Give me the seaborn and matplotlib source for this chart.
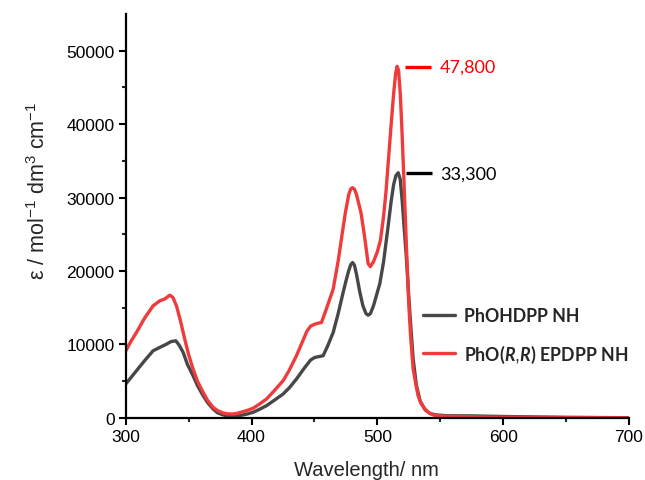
import matplotlib
matplotlib.use("Agg")
import matplotlib.pyplot as plt
import numpy as np
import pandas as pd
import seaborn as sns

# ---------------- data ----------------
wl_gray = [300, 308.5, 315, 321.7, 327, 332.4, 336, 339.8, 342.5, 345.6, 349, 353.5, 357, 361.5,
           365, 369.4, 373, 377.4, 381, 385.3, 389, 393.3, 397, 401.2, 406, 411.9, 418, 425.1,
           430, 435.7, 442, 447, 450.3, 453.5, 456.9, 460.5, 464.9, 469, 472.8, 475, 477, 478.8,
           480.3, 481.8, 483.5, 486, 488.5, 491, 492.7, 494.5, 497, 499.5, 502, 505, 508.6, 511,
           513, 514.8, 516.6, 518.2, 519.8, 521.5, 523.2, 525, 526.8, 528.5, 531, 534, 538, 542,
           546, 555, 575, 600, 650, 700]
eps_gray = [4620, 6430, 7800, 9140, 9600, 10050, 10400, 10500, 9900, 8930, 7300, 5750, 4400, 3030,
            2100, 1220, 700, 410, 280, 230, 290, 410, 560, 770, 1150, 1670, 2400, 3260,
            4100, 5300, 6800, 7900, 8240, 8350, 8470, 9800, 11640, 14300, 17080, 18600, 19900, 20850,
            21150, 20800, 19500, 17200, 15300, 14200, 13990, 14200, 15300, 16800, 18300, 21300, 26130, 29500,
            31800, 33000, 33380, 32500, 29500, 25500, 21600, 16500, 12000, 8020, 4500, 2300, 1100, 600,
            420, 300, 280, 200, 80, 30]

wl_red = [300, 304, 308.5, 315, 321.7, 327, 331, 335, 337.5, 340.3, 343.5, 346.9, 350, 353.5,
          357, 361.5, 365, 369.4, 373, 377.4, 381, 385.3, 389, 393.3, 397, 401.2, 406, 411.9,
          418, 425.1, 430, 435.7, 440, 444, 447, 450.3, 453, 455.6, 459, 464.9, 469, 471.8,
          474.6, 477.3, 478.8, 480.2, 481.8, 483.4, 487, 489.8, 492.7, 494.5, 497, 500, 502.5, 505,
          507, 509, 511, 513, 514.5, 515.7, 516.9, 518.3, 519.5, 521, 523, 525, 526.5, 528.5,
          530.5, 532.4, 535, 537.8, 541, 544.4, 550, 555, 580, 600, 650, 700]
eps_red = [9140, 10400, 11640, 13600, 15260, 15940, 16200, 16710, 16400, 15260, 13200, 10730, 8600, 6660,
           5000, 3490, 2400, 1450, 1000, 680, 560, 540, 650, 860, 1050, 1320, 1850, 2580,
           3700, 5070, 6500, 8470, 10200, 11800, 12500, 12770, 12900, 13000, 14600, 17530, 21500, 24770,
           27950, 30430, 31150, 31340, 31150, 30430, 27950, 24770, 21000, 20600, 21300, 22600, 24200, 27500,
           31000, 35500, 40000, 44200, 46800, 47870, 47300, 44000, 39500, 33000, 24000, 15500, 11000, 6660,
           4700, 3030, 1900, 1220, 700, 410, 280, 230, 130, 100, 60, 20]

series_labels = ["PhOHDPP NH", r"PhO($\mathit{R{,}R}$) EPDPP NH"]
peak_values = [33300, 47800]
peak_labels = ["33,300", "47,800"]
xticks = [300, 400, 500, 600, 700]
yticks = [0, 10000, 20000, 30000, 40000, 50000]

# ---------------- style ----------------
sns.set_style("ticks")
plt.rcParams["font.family"] = ["Liberation Sans", "DejaVu Sans"]
plt.rcParams["mathtext.fontset"] = "custom"
plt.rcParams["mathtext.rm"] = "Liberation Sans"
plt.rcParams["mathtext.it"] = "Lato:italic:bold"
plt.rcParams["mathtext.bf"] = "Liberation Sans:bold"

gray_c = "#474747"
red_c = "#EF3B3B"

df = pd.concat([
    pd.DataFrame({"wl": wl_gray, "eps": eps_gray, "series": series_labels[0]}),
    pd.DataFrame({"wl": wl_red, "eps": eps_red, "series": series_labels[1]}),
], ignore_index=True)

fig = plt.figure(figsize=(6.45, 4.81), dpi=100)
ax = fig.add_axes([0.195, 0.129, 0.780, 0.840])

sns.lineplot(data=df, x="wl", y="eps", hue="series", palette=[gray_c, red_c],
             linewidth=2.4, sort=False, estimator=None, ax=ax)
for ln in ax.get_lines():
    ln.set_solid_joinstyle("round")

ax.set_xlim(300, 700)
ax.set_ylim(0, 55000)
ax.set_xticks(xticks)
ax.set_yticks(yticks)
ax.set_xticks([350, 450, 550, 650], minor=True)
ax.set_yticks([5000, 15000, 25000, 35000, 45000], minor=True)
ax.tick_params(axis="both", which="major", direction="out", length=5, width=1.5,
               labelsize=12.5, colors="black", pad=3)
ax.tick_params(axis="both", which="minor", direction="out", length=3, width=1.5)
for side in ["top", "right"]:
    ax.spines[side].set_visible(False)
for side in ["left", "bottom"]:
    ax.spines[side].set_linewidth(1.6)
    ax.spines[side].set_color("black")

ax.set_xlabel("Wavelength/ nm", fontsize=14.5)
ax.xaxis.set_label_coords(0.479, -0.105)
ax.set_ylabel(r"ε / mol$^{-1}$ dm$^{3}$ cm$^{-1}$", fontsize=15.5)
ax.yaxis.set_label_coords(-0.15, 0.564)

# peak annotations
ann_colors = ["black", "red"]
ann_x0 = [523, 522]
for val, lab, col, x0 in zip(peak_values, peak_labels, ann_colors, ann_x0):
    ax.plot([x0, x0 + 20.5], [val, val], color=col, lw=2.4, solid_capstyle="butt")
    ax.text(549.7, val, lab, color=col, fontsize=13, family="Lato", va="center", ha="left")

leg = ax.legend(loc="upper left", bbox_to_anchor=(0.59, 0.275), frameon=False,
                borderpad=0, borderaxespad=0, handlelength=1.8, handletextpad=0.55,
                labelspacing=1.05, prop={"family": "Lato", "weight": "bold", "size": 12.8})
for line in leg.get_lines():
    line.set_linewidth(2.4)

fig.savefig("out.png", dpi=100, facecolor="white")
